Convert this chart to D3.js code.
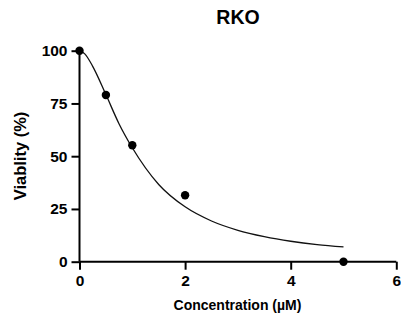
<!DOCTYPE html>
<html>
<head>
<meta charset="utf-8">
<script src="https://cdn.jsdelivr.net/npm/d3@7"></script>
<style>
  html, body { margin: 0; padding: 0; background: #fff; }
  svg { display: block; font-family: "Liberation Sans", Arial, Helvetica, sans-serif; }
</style>
</head>
<body>
<svg id="chart" width="401" height="322"></svg>
<script>
// Measured viability of RKO cells at each concentration (µM)
const concentrations = [0, 0.5, 1, 2, 5];
const viability = [100, 79, 55.2, 31.5, 0];

// Fitted dose-response curve, sampled along the concentration range
const fitConcentrations = [0, 0.1, 0.25, 0.5, 0.75, 1, 1.5, 2, 2.5, 3, 3.5, 4, 4.5, 5];
const fitViability = [100, 98.5, 92.6, 79.2, 65.3, 54, 36.6, 26, 19.3, 14.9, 11.9, 9.7, 8.1, 7];

const xTicks = [0, 2, 4, 6];
const yTicks = [0, 25, 50, 75, 100];

const title = "RKO";
const xTitle = "Concentration (µM)";
const yTitle = "Viablity (%)";

const svg = d3.select("#chart");
const margin = { left: 79.5, right: 5, top: 50.7, bottom: 60.3 };
const W = 401, H = 322;

const x = d3.scaleLinear().domain([0, 6]).range([margin.left, W - margin.right + 0.3]);
const y = d3.scaleLinear().domain([0, 100]).range([H - margin.bottom, margin.top]);

// Axes
const xAxis = d3.axisBottom(x).tickValues(xTicks).tickSize(8).tickPadding(5).tickFormat(d3.format("d"));
const yAxis = d3.axisLeft(y).tickValues(yTicks).tickSize(8).tickPadding(4).tickFormat(d3.format("d"));

const gx = svg.append("g").attr("transform", `translate(0,${y(0)})`).call(xAxis);
const gy = svg.append("g").attr("transform", `translate(${x(0)},0)`).call(yAxis);

[gx, gy].forEach(g => {
  g.select(".domain").attr("stroke", "#000").attr("stroke-width", 2);
  g.selectAll(".tick line").attr("stroke", "#000").attr("stroke-width", 2);
  g.selectAll(".tick text")
    .attr("fill", "#000")
    .style("font-size", "15.5px")
    .style("font-weight", "bold")
    .style("font-family", "'Liberation Sans', Arial, sans-serif");
});
// Square off the domain paths (no outer ticks)
gx.select(".domain").attr("d", `M${x(0)},0H${x(6)}`);
gy.select(".domain").attr("d", `M0,${y(0)}V${y(100)}`);

// Fitted curve
const line = d3.line()
  .x((d, i) => x(fitConcentrations[i]))
  .y(d => y(d))
  .curve(d3.curveMonotoneX);

svg.append("path")
  .datum(fitViability)
  .attr("d", line)
  .attr("fill", "none")
  .attr("stroke", "#111")
  .attr("stroke-width", 1.3);

// Data points
svg.append("g")
  .selectAll("circle")
  .data(concentrations)
  .join("circle")
  .attr("cx", d => x(d))
  .attr("cy", (d, i) => y(viability[i]))
  .attr("r", 4.2)
  .attr("fill", "#000");

// Titles
svg.append("text")
  .attr("x", 238).attr("y", 24)
  .attr("text-anchor", "middle")
  .style("font-size", "19.5px").style("font-weight", "bold")
  .text(title);

svg.append("text")
  .attr("x", 237.5).attr("y", 310)
  .attr("text-anchor", "middle")
  .style("font-size", "14px").style("font-weight", "bold")
  .text(xTitle);

svg.append("text")
  .attr("transform", "translate(26,156) rotate(-90)")
  .attr("text-anchor", "middle")
  .style("font-size", "16.5px").style("font-weight", "bold")
  .text(yTitle);
</script>
</body>
</html>
